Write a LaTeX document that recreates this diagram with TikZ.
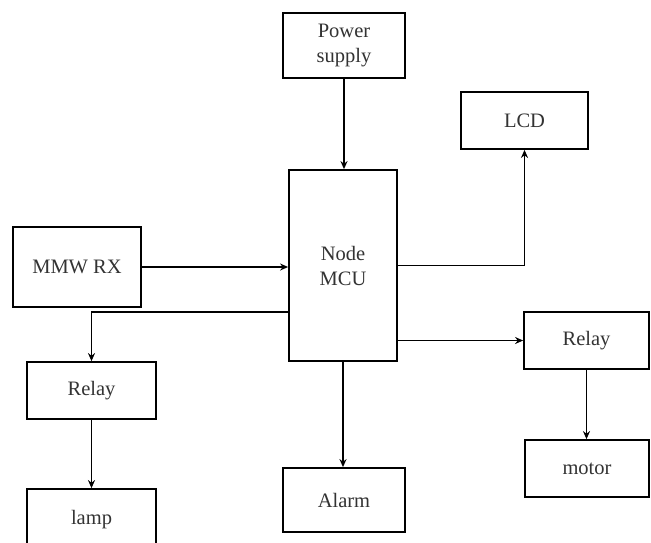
\documentclass[tikz,border=0pt]{standalone}
\usepackage{fontspec}
\setmainfont{Liberation Serif}
\usetikzlibrary{arrows.meta}
\begin{document}
\begin{tikzpicture}[x=1pt,y=-1pt,
  box/.style={draw, line width=1.8pt, inner sep=0pt, align=center,
    font=\fontsize{20.5}{25}\selectfont, text=black!80},
  arr/.style={line width=1.6pt, -{Stealth[length=8pt,width=7pt]}}]
\clip (0,0) rectangle (651,542);
\fill[white] (0,0) rectangle (651,542);
\node[box, minimum width=122pt, minimum height=65pt] (ps) at (344,45.5) {Power\\supply};
\node[box, minimum width=127pt, minimum height=57pt] (lcd) at (524.5,120.5) {LCD};
\node[box, minimum width=108pt, minimum height=191pt] (mcu) at (343,265.5) {Node\\MCU};
\node[box, minimum width=128pt, minimum height=80pt] (mmw) at (77,267) {MMW RX};
\node[box, minimum width=129pt, minimum height=57pt] (relL) at (91.5,390.5) {Relay};
\node[box, minimum width=129pt, minimum height=80pt] (lamp) at (91.5,529) {};
\node at (91.5,520) {\fontsize{20.5}{25}\selectfont\color{black!80}lamp};
\node[box, minimum width=122pt, minimum height=64pt] (alarm) at (344,500) {Alarm};
\node[box, minimum width=125pt, minimum height=57pt] (relR) at (586.5,340.5) {Relay};
\node[box, minimum width=124pt, minimum height=57pt] (motor) at (587,468.5) {motor};
\draw[arr] (ps.south) -- (ps.south |- mcu.north);
\draw[arr] (mcu.east) -| (lcd.south);
\draw[arr] (mmw.east) -- (mmw.east -| mcu.west);
\draw[arr] (mcu.west |- 0,312) -| (relL.north);
\draw[arr] (relL.south) -- (lamp.north);
\draw[arr] (mcu.south) -- (mcu.south |- alarm.north);
\draw[arr] (mcu.east |- relR.west) -- (relR.west);
\draw[arr] (relR.south) -- (relR.south |- motor.north);
\end{tikzpicture}
\end{document}
